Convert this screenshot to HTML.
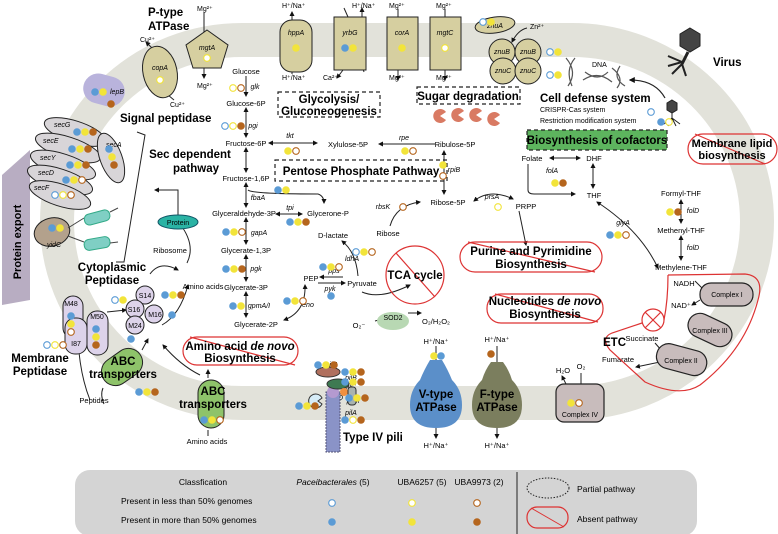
<!DOCTYPE html>
<html><head><meta charset="utf-8"><style>
html,body{margin:0;padding:0;background:#fff}
svg{display:block;font-family:"Liberation Sans",sans-serif}
.s{font-size:7px}
.m{font-size:7.5px}
.i{font-style:italic;font-size:7px}
.b{font-weight:bold;font-size:11.5px}
.bb{font-weight:bold;font-size:11px}
</style></head><body>
<svg id="S" width="778" height="534" viewBox="0 0 778 534" xmlns="http://www.w3.org/2000/svg">
<defs>
<marker id="a" viewBox="0 0 10 10" refX="8" refY="5" markerWidth="5" markerHeight="5" orient="auto-start-reverse"><path d="M0,0L10,5L0,10z" fill="#111" stroke="none"/></marker>
</defs>
<rect x="57" y="40" width="700" height="363" rx="185" ry="185" fill="none" stroke="#e2e2da" stroke-width="34"/>
<polygon points="2,175 30,150 30,300 2,305" fill="#b8adc2"/>
<text class="bb" transform="translate(21,242) rotate(-90)" text-anchor="middle">Protein export</text>

<g stroke="#222" stroke-width="1" fill="none">
<line x1="204" y1="12" x2="204" y2="35"/>
<line x1="204" y1="55" x2="204" y2="78" marker-end="url(#a)"/>
<line x1="154" y1="50" x2="146" y2="42" marker-end="url(#a)"/>
<line x1="168" y1="95" x2="174" y2="100"/>
<line x1="292" y1="12" x2="292" y2="20" marker-start="url(#a)"/>
<line x1="292" y1="72" x2="292" y2="74"/>
<line x1="344" y1="8" x2="348" y2="17"/><line x1="362" y1="17" x2="362" y2="8" marker-end="url(#a)"/>
<line x1="343" y1="70" x2="337" y2="78" marker-end="url(#a)"/><path d="M356,70 Q362,64 364,72"/>
<line x1="398" y1="9" x2="398" y2="17"/><line x1="398" y1="70" x2="398" y2="80" marker-end="url(#a)"/>
<line x1="445" y1="9" x2="445" y2="17"/><line x1="445" y1="70" x2="445" y2="80" marker-end="url(#a)"/>
<path d="M527,28 Q518,30 512,42" marker-end="url(#a)"/>
<path d="M665,98 Q655,80 630,80" marker-end="url(#a)" stroke-width="1.2"/>
<line x1="246" y1="76" x2="246" y2="96" marker-end="url(#a)"/>
<line x1="246" y1="108" x2="246" y2="137" marker-start="url(#a)" marker-end="url(#a)"/>
<line x1="269" y1="143" x2="317" y2="143" marker-start="url(#a)" marker-end="url(#a)"/>
<line x1="435" y1="144" x2="379" y2="144" marker-end="url(#a)"/>
<line x1="246" y1="148" x2="246" y2="172" marker-start="url(#a)" marker-end="url(#a)"/>
<line x1="246" y1="183" x2="246" y2="207" marker-start="url(#a)" marker-end="url(#a)"/>
<path d="M248,190 Q252,194 318,194 Q324,196 324,203" marker-end="url(#a)"/>
<line x1="276" y1="214" x2="302" y2="214" marker-start="url(#a)" marker-end="url(#a)"/>
<line x1="246" y1="218" x2="246" y2="244" marker-start="url(#a)" marker-end="url(#a)"/>
<line x1="246" y1="255" x2="246" y2="281" marker-start="url(#a)" marker-end="url(#a)"/>
<line x1="246" y1="292" x2="246" y2="317" marker-start="url(#a)" marker-end="url(#a)"/>
<path d="M284,320 Q306,312 305,285" marker-start="url(#a)" marker-end="url(#a)"/>
<line x1="343" y1="277" x2="320" y2="277" marker-end="url(#a)"/>
<line x1="318" y1="283" x2="345" y2="283" marker-end="url(#a)"/>
<path d="M358,276 Q356,252 342,241" marker-end="url(#a)"/>
<path d="M362,292 Q380,300 410,285" marker-end="url(#a)"/>
<line x1="444" y1="151" x2="444" y2="194" marker-start="url(#a)" marker-end="url(#a)"/>
<path d="M390,226 Q396,205 420,202" marker-end="url(#a)"/>
<path d="M474,201 Q490,188 513,199" marker-start="url(#a)" marker-end="url(#a)"/>
<line x1="519" y1="211" x2="526" y2="245" marker-end="url(#a)"/>
<line x1="550" y1="158" x2="580" y2="158" marker-start="url(#a)" marker-end="url(#a)"/>
<line x1="593" y1="164" x2="593" y2="188" marker-start="url(#a)" marker-end="url(#a)"/>
<path d="M528,164 L528,190 Q528,194 534,194 L575,194" marker-end="url(#a)"/>
<path d="M597,202 Q640,230 658,268" marker-start="url(#a)" marker-end="url(#a)"/>
<line x1="681" y1="200" x2="681" y2="223" marker-start="url(#a)" marker-end="url(#a)"/>
<line x1="681" y1="236" x2="681" y2="260" marker-start="url(#a)" marker-end="url(#a)"/>
<line x1="375" y1="321" x2="386" y2="318"/>
<line x1="408" y1="313" x2="421" y2="313" marker-end="url(#a)"/>
<polyline points="137,132 145,135 124,262 116,262"/>
<polyline points="178,222 178,190 155,190" marker-end="url(#a)"/>
<path d="M187,263 Q196,245 180,224" marker-end="url(#a)"/>
<path d="M150,274 Q160,260 178,270" marker-end="url(#a)"/>
<path d="M162,325 Q180,315 188,285" marker-end="url(#a)"/>
<line x1="107" y1="312" x2="126" y2="310" marker-end="url(#a)"/>
<line x1="142" y1="350" x2="148" y2="339" marker-end="url(#a)"/>
<path d="M200,375 Q180,365 163,345" marker-end="url(#a)"/>
<line x1="208" y1="378" x2="208" y2="370" marker-end="url(#a)"/>
<path d="M78,340 Q80,375 90,400"/>
<path d="M103,388 Q100,395 104,404"/>
<line x1="208" y1="430" x2="208" y2="436"/>
<line x1="436" y1="346" x2="436" y2="360"/><line x1="436" y1="428" x2="436" y2="438" marker-end="url(#a)"/>
<line x1="497" y1="346" x2="497" y2="362"/><line x1="497" y1="428" x2="497" y2="438" marker-end="url(#a)"/>
<line x1="581" y1="373" x2="581" y2="384"/><line x1="566" y1="384" x2="562" y2="376" marker-end="url(#a)"/>
<line x1="695" y1="281" x2="702" y2="288"/><line x1="700" y1="300" x2="692" y2="305" marker-end="url(#a)"/>
<line x1="655" y1="343" x2="662" y2="351"/><line x1="660" y1="362" x2="636" y2="367" marker-end="url(#a)"/>
</g>

<polygon points="207,30 228,45 221,68 193,68 186,45" fill="#d6cfa0" stroke="#222"/>
<text class="i" x="207" y="50" text-anchor="middle">mgtA</text>
<ellipse cx="160" cy="72" rx="17" ry="26" transform="rotate(-12 160 72)" fill="#d6cfa0" stroke="#222"/>
<text class="i" x="160" y="70" text-anchor="middle">copA</text>
<rect x="280" y="20" width="32" height="52" rx="12" fill="#d6cfa0" stroke="#222"/>
<text class="i" x="296" y="35" text-anchor="middle">hppA</text>
<rect x="334" y="17" width="32" height="53" fill="#d6cfa0" stroke="#222"/>
<text class="i" x="350" y="35" text-anchor="middle">yrbG</text>
<rect x="387" y="17" width="31" height="53" fill="#d6cfa0" stroke="#222"/>
<text class="i" x="402" y="35" text-anchor="middle">corA</text>
<rect x="430" y="17" width="31" height="53" fill="#d6cfa0" stroke="#222"/>
<text class="i" x="445" y="35" text-anchor="middle">mgtC</text>
<g fill="#d6cfa0" stroke="#222">
<ellipse cx="495" cy="25" rx="20" ry="8" transform="rotate(-8 495 25)"/>
<circle cx="502" cy="52" r="13"/><circle cx="528" cy="52" r="13"/>
<circle cx="503" cy="71" r="13"/><circle cx="528" cy="71" r="13"/>
</g>
<g class="i" text-anchor="middle"><text x="495" y="28">znuA</text><text x="502" y="54">znuB</text><text x="528" y="54">znuB</text><text x="503" y="73">znuC</text><text x="528" y="73">znuC</text></g>
<g class="s">
<text x="197" y="11">Mg²⁺</text><text x="197" y="88">Mg²⁺</text>
<text x="140" y="42">Cu²⁺</text><text x="170" y="107">Cu²⁺</text>
<text x="282" y="8">H⁺/Na⁺</text><text x="282" y="80">H⁺/Na⁺</text>
<text x="352" y="8">H⁺/Na⁺</text><text x="323" y="80">Ca²⁺</text>
<text x="389" y="8">Mg²⁺</text><text x="389" y="80">Mg²⁺</text>
<text x="436" y="8">Mg²⁺</text><text x="436" y="80">Mg²⁺</text>
<text x="530" y="29">Zn²⁺</text>
</g>
<text class="b" x="148" y="16">P-type</text><text class="b" x="148" y="30">ATPase</text>

<g stroke="#555" fill="none" stroke-width="1.2">
<path d="M575,58 Q565,70 572,86 M566,58 Q578,72 568,86"/>
<path d="M583,80 Q598,70 612,82 M585,72 Q598,82 608,72"/>
<path d="M612,68 Q625,78 617,88 M620,66 Q612,78 625,86"/>
</g>
<text class="s" x="592" y="67">DNA</text>
<g fill="#444" stroke="#222">
<polygon points="690,28 700,34 700,46 690,52 680,46 680,34"/>
<line x1="688" y1="52" x2="682" y2="64" stroke-width="3"/>
<path d="M682,62 L668,56 M682,62 L668,66 M682,64 L672,74 M682,64 L686,76" stroke-width="2" fill="none"/>
<polygon points="672,100 677,103 677,110 672,113 667,110 667,103"/>
<path d="M672,113 L672,120 M672,118 L664,124 M672,118 L680,124 M672,118 L668,126 M672,118 L676,126" fill="none"/>
</g>
<text class="b" x="713" y="66">Virus</text>
<text class="b" x="540" y="102">Cell defense system</text>
<text class="s" x="540" y="112">CRISPR-Cas system</text>
<text class="s" x="540" y="123">Restriction modification system</text>

<g fill="none" stroke="#222" stroke-dasharray="4,3" stroke-width="1.2">
<rect x="278" y="92" width="102" height="25"/>
<rect x="275" y="160" width="172" height="21"/>
<rect x="417" y="87" width="103" height="17"/>
</g>
<rect x="527" y="130" width="140" height="20" fill="#5db45e" stroke="#222" stroke-dasharray="4,3" stroke-width="1.2"/>
<text class="b" x="329" y="103" text-anchor="middle">Glycolysis/</text>
<text class="b" x="329" y="115" text-anchor="middle">Gluconeogenesis</text>
<text class="b" x="361" y="175" text-anchor="middle">Pentose Phosphate Pathway</text>
<text class="b" x="468" y="100" text-anchor="middle">Sugar degradation</text>
<text class="b" x="597" y="144" text-anchor="middle">Biosynthesis of cofactors</text>
<g fill="#d97a63">
<path d="M440,116 L446,112 A7,7 0 1,0 446,120 Z"/>
<path d="M458,115 L464,111 A7,7 0 1,0 464,119 Z"/>
<path d="M476,115 L482,111 A7,7 0 1,0 482,119 Z"/>
<path d="M494,119 L500,115 A7,7 0 1,0 500,123 Z"/>
</g>

<g class="m" text-anchor="middle">
<text x="246" y="74">Glucose</text><text x="246" y="106">Glucose-6P</text>
<text x="246" y="146">Fructose-6P</text><text x="348" y="147">Xylulose-5P</text>
<text x="455" y="147">Ribulose-5P</text><text x="246" y="181">Fructose-1,6P</text>
<text x="244" y="216">Glyceraldehyde-3P</text><text x="328" y="216">Glycerone-P</text>
<text x="246" y="253">Glycerate-1,3P</text><text x="246" y="290">Glycerate-3P</text>
<text x="256" y="327">Glycerate-2P</text><text x="311" y="281">PEP</text>
<text x="362" y="286">Pyruvate</text><text x="333" y="238">D-lactate</text>
<text x="448" y="205">Ribose-5P</text><text x="388" y="236">Ribose</text>
<text x="526" y="209">PRPP</text><text x="532" y="161">Folate</text>
<text x="594" y="161">DHF</text><text x="594" y="198">THF</text>
<text x="681" y="196">Formyl-THF</text><text x="681" y="233">Methenyl-THF</text>
<text x="681" y="270">Methylene-THF</text>
<text x="436" y="344">H⁺/Na⁺</text><text x="436" y="448">H⁺/Na⁺</text>
<text x="497" y="342">H⁺/Na⁺</text><text x="497" y="448">H⁺/Na⁺</text>
<text x="563" y="373">H₂O</text><text x="581" y="369">O₂</text>
<text x="684" y="286">NADH</text><text x="681" y="308">NAD⁺</text>
<text x="642" y="341">Succinate</text><text x="618" y="362">Fumarate</text>
<text x="359" y="328">O₂⁻</text><text x="436" y="324">O₂/H₂O₂</text>
<text x="170" y="253">Ribosome</text><text x="203" y="289">Amino acids</text>
<text x="94" y="403">Peptides</text><text x="207" y="444">Amino acids</text>
</g>
<g class="i" text-anchor="middle">
<text x="255" y="89">glk</text><text x="253" y="128">pgi</text><text x="290" y="138">tkt</text>
<text x="404" y="140">rpe</text><text x="258" y="200">fbaA</text><text x="290" y="210">tpi</text>
<text x="259" y="235">gapA</text><text x="256" y="271">pgk</text><text x="259" y="308">gpmA/I</text>
<text x="308" y="307">eno</text><text x="334" y="273">pps</text><text x="330" y="291">pyk</text>
<text x="352" y="261">ldhA</text><text x="454" y="172">rpiB</text><text x="383" y="209">rbsK</text>
<text x="492" y="199">prsA</text><text x="552" y="173">folA</text><text x="623" y="225">glyA</text>
<text x="693" y="213">folD</text><text x="693" y="250">folD</text>
<text x="331" y="367">pilT</text><text x="351" y="380">pilB</text><text x="350" y="389">pilC</text>
<text x="337" y="400">pilD</text><text x="353" y="403">pilM</text><text x="351" y="415">pilA</text>
<text x="581" y="398">Cox</text>
</g>

<rect x="83" y="75" width="42" height="30" rx="15" transform="rotate(15 104 90)" fill="#b9b3dc"/>
<text class="i" x="110" y="94">lepB</text>
<g fill="#d8d5d8" stroke="#222">
<ellipse cx="75" cy="132" rx="32" ry="11" transform="rotate(18 75 132)"/>
<ellipse cx="68" cy="148" rx="34" ry="11" transform="rotate(18 68 148)"/>
<ellipse cx="63" cy="165" rx="34" ry="11" transform="rotate(18 63 165)"/>
<ellipse cx="60" cy="180" rx="34" ry="11" transform="rotate(18 60 180)"/>
<ellipse cx="60" cy="195" rx="32" ry="11" transform="rotate(18 60 195)"/>
<ellipse cx="111" cy="158" rx="11" ry="26" transform="rotate(-20 111 158)"/>
</g>
<g class="i"><text x="54" y="127">secG</text><text x="43" y="143">secE</text><text x="40" y="160">secY</text><text x="38" y="175">secD</text><text x="34" y="190">secF</text><text x="106" y="147">secA</text></g>
<ellipse cx="52" cy="232" rx="18" ry="14" transform="rotate(-15 52 232)" fill="#b3a18c" stroke="#222"/>
<text class="i" x="47" y="247">yidC</text>
<path d="M68,228 L84,218 M68,236 L84,242" stroke="#444"/>
<rect x="84" y="212" width="26" height="11" rx="5" transform="rotate(-15 97 217)" fill="#7fcfc4" stroke="#3a8"/>
<rect x="84" y="238" width="26" height="11" rx="5" transform="rotate(-10 97 243)" fill="#7fcfc4" stroke="#3a8"/>
<line x1="110" y1="212" x2="118" y2="208" stroke="#444"/><line x1="110" y1="243" x2="118" y2="242" stroke="#444"/>
<ellipse cx="178" cy="222" rx="20" ry="7" fill="#2ab3a4" stroke="#156"/>
<text class="s" x="178" y="225" text-anchor="middle">Protein</text>
<text class="b" x="120" y="122">Signal peptidase</text>
<text class="b" x="190" y="158" text-anchor="middle">Sec dependent</text>
<text class="b" x="196" y="172" text-anchor="middle">pathway</text>
<text class="b" x="112" y="271" text-anchor="middle">Cytoplasmic</text>
<text class="b" x="112" y="284" text-anchor="middle">Peptidase</text>
<text class="b" x="40" y="362" text-anchor="middle">Membrane</text>
<text class="b" x="40" y="375" text-anchor="middle">Peptidase</text>
<g fill="#ddd3ea" stroke="#222">
<rect x="63" y="296" width="20" height="42" rx="10"/><rect x="65" y="318" width="22" height="36" rx="10"/>
<rect x="87" y="311" width="21" height="44" rx="10"/>
<circle cx="145" cy="295" r="9"/><circle cx="135" cy="309" r="9"/><circle cx="154" cy="314" r="9"/><circle cx="135" cy="325" r="9"/>
</g>
<g class="s" text-anchor="middle"><text x="71" y="306">M48</text><text x="76" y="346">I87</text><text x="97" y="319">M50</text>
<text x="145" y="298">S14</text><text x="134" y="312">S16</text><text x="155" y="317">M16</text><text x="135" y="328">M24</text></g>
<rect x="100" y="353" width="44" height="28" rx="14" transform="rotate(-35 122 367)" fill="#8ec36a" stroke="#222"/>
<text class="b" x="123" y="365" text-anchor="middle">ABC</text><text class="b" x="123" y="378" text-anchor="middle">transporters</text>
<rect x="198" y="380" width="26" height="48" rx="13" fill="#8ec36a" stroke="#222"/>
<text class="b" x="213" y="395" text-anchor="middle">ABC</text><text class="b" x="213" y="408" text-anchor="middle">transporters</text>

<g fill="none" stroke="#d33" stroke-width="1.2">
<rect x="183" y="337" width="115" height="28" rx="14"/><line x1="190" y1="337" x2="295" y2="365"/>
<circle cx="415" cy="275" r="29"/><line x1="396" y1="253" x2="435" y2="297"/>
<rect x="460" y="242" width="142" height="30" rx="15"/><line x1="468" y1="242" x2="595" y2="272"/>
<rect x="487" y="294" width="116" height="29" rx="14"/><line x1="495" y1="294" x2="598" y2="322"/>
<rect x="688" y="134" width="89" height="30" rx="15"/><line x1="695" y1="134" x2="765" y2="164"/>
<path d="M668,275 L745,274 Q765,276 758,300 Q745,350 700,385 Q680,398 645,382 L610,350 Q600,338 612,333 L642,323"/>
<path d="M664,320 Q668,300 668,275"/>
<circle cx="653" cy="320" r="11"/><line x1="645" y1="312" x2="661" y2="328"/><line x1="661" y1="312" x2="645" y2="328"/>
</g>
<text class="b" x="240" y="350" text-anchor="middle">Amino acid <tspan font-style="italic">de novo</tspan></text>
<text class="b" x="240" y="362" text-anchor="middle">Biosynthesis</text>
<text class="b" x="415" y="279" text-anchor="middle">TCA cycle</text>
<text class="b" x="531" y="255" text-anchor="middle">Purine and Pyrimidine</text>
<text class="b" x="531" y="268" text-anchor="middle">Biosynthesis</text>
<text class="b" x="545" y="305" text-anchor="middle">Nucleotides <tspan font-style="italic">de novo</tspan></text>
<text class="b" x="545" y="318" text-anchor="middle">Biosynthesis</text>
<text class="bb" x="732" y="147" text-anchor="middle" font-size="10.5">Membrane lipid</text>
<text class="bb" x="732" y="159" text-anchor="middle" font-size="10.5">biosynthesis</text>
<text class="b" x="603" y="346">ETC</text>
<g fill="#c8bcbc" stroke="#222" stroke-width="1.2">
<rect x="700" y="283" width="53" height="23" rx="11"/>
<rect x="687" y="318" width="46" height="24" rx="12" transform="rotate(25 710 330)"/>
<rect x="656" y="347" width="51" height="25" rx="12" transform="rotate(15 681 360)"/>
<rect x="556" y="384" width="48" height="38" rx="8"/>
</g>
<g class="s" text-anchor="middle"><text x="727" y="297">Complex I</text><text x="710" y="333">Complex III</text><text x="681" y="363">Complex II</text><text x="580" y="417">Complex IV</text></g>
<ellipse cx="393" cy="321" rx="16" ry="9" fill="#b8d8b3"/>
<text class="s" x="393" y="320" text-anchor="middle">SOD2</text>
<path d="M430,360 L442,360 Q448,370 452,380 Q462,390 462,405 Q462,428 436,428 Q410,428 410,405 Q410,390 420,380 Q424,370 430,360Z" fill="#5b8fc9"/>
<path d="M491,362 L503,362 Q509,370 512,380 Q522,390 522,405 Q522,428 497,428 Q472,428 472,405 Q472,390 482,380 Q485,370 491,362Z" fill="#7b7e5e"/>
<text class="b" x="436" y="398" text-anchor="middle">V-type</text><text class="b" x="436" y="411" text-anchor="middle">ATPase</text>
<text class="b" x="497" y="398" text-anchor="middle">F-type</text><text class="b" x="497" y="411" text-anchor="middle">ATPase</text>
<rect x="326" y="392" width="14" height="60" fill="#8a93c7" stroke="#557" stroke-dasharray="2,1"/>
<ellipse cx="333" cy="392" rx="6" ry="6" fill="#b49ad0"/>
<ellipse cx="328" cy="372" rx="12" ry="5" fill="#b0705e" stroke="#333"/>
<ellipse cx="338" cy="384" rx="11" ry="5" fill="#3e7a52" stroke="#333"/>
<circle cx="344" cy="392" r="4" fill="#f09040"/>
<rect x="348" y="387" width="8" height="18" rx="3" fill="#a9b3ae" stroke="#333"/>
<path d="M322,398 A7,7 0 1,0 322,404 L318,401Z" fill="#d6ecf7" stroke="#333"/>
<text class="b" x="343" y="441">Type IV pili</text>

<rect x="75" y="470" width="622" height="66" rx="15" fill="#d4d4d4"/>
<g font-size="8.5"><text x="203" y="485" text-anchor="middle">Classfication</text>
<text x="121" y="504">Present in less than 50% genomes</text>
<text x="121" y="523">Present in more than 50% genomes</text>
<text x="333" y="485" text-anchor="middle"><tspan font-style="italic">Paceibacterales</tspan> (5)</text>
<text x="422" y="485" text-anchor="middle">UBA6257 (5)</text><text x="479" y="485" text-anchor="middle">UBA9973 (2)</text>
<text x="577" y="492">Partial pathway</text><text x="577" y="522">Absent pathway</text></g>
<line x1="517" y1="472" x2="517" y2="534" stroke="#222"/>
<ellipse cx="548" cy="488" rx="21" ry="10" fill="none" stroke="#222" stroke-dasharray="1.5,1.5"/>
<rect x="527" y="507" width="41" height="21" rx="10" fill="none" stroke="#d33" stroke-width="1.2"/>
<line x1="531" y1="508" x2="564" y2="527" stroke="#d33"/>
<g id="D"></g>
</svg>
<script>
var C={b:"#5b9bd5",y:"#f2e43a",r:"#b5651d"};
var L=[
[332,503,"b"],[412,503,"y"],[477,503,"r"],[332,522,"B"],[412,522,"Y"],[477,522,"R"],
[160,80,"y"],[207,58,"y"],[296,48,"Y"],[345,48,"BY"],[402,48,"Y"],[445,48,"y"],
[483,22,"bY"],[550,52,"bY"],[550,75,"bY"],[651,112,"b"],[661,122,"By"],
[233,88,"yr"],[225,126,"byR"],[288,151,"Yr"],[405,151,"Yr"],[443,165,"Y"],[443,176,"r"],
[278,190,"BY"],[290,222,"BYR"],[226,232,"BYr"],[226,269,"BYR"],[233,306,"BY"],[287,301,"BYr"],
[323,267,"BYr"],[331,296,"B"],[356,252,"bYr"],[403,207,"r"],[498,207,"y"],[555,183,"YR"],
[610,235,"BYr"],[670,212,"YR"],[434,356,"Y"],[441,356,"B"],[491,354,"R"],[571,403,"Yr"],
[318,365,"BYR"],[345,372,"BYR"],[345,382,"BYR"],[299,406,"BYR"],[349,398,"BYR"],[345,420,"ByR"],
[95,92,"B"],[103,92,"Y"],[111,104,"R"],[77,132,"BYR"],[72,149,"BYR"],[70,165,"BYR"],[66,180,"BYr"],[55,195,"byr"],
[109,149,"B"],[112,157,"Y"],[114,165,"R"],[52,228,"BY"],[165,295,"BYR"],[172,315,"B"],[131,339,"B"],
[115,300,"bY"],[71,316,"B"],[71,324,"Y"],[71,332,"r"],[96,329,"B"],[96,337,"Y"],[96,345,"R"],
[47,345,"byr"],[139,392,"BYR"],[204,420,"BYr"]
];
var g=document.getElementById("D"),ns="http://www.w3.org/2000/svg";
L.forEach(function(e){for(var k=0;k<e[2].length;k++){var c=e[2][k],lc=c.toLowerCase(),o=document.createElementNS(ns,"circle");
o.setAttribute("cx",e[0]+k*8);o.setAttribute("cy",e[1]);o.setAttribute("r",c==lc?3.3:3.8);
if(c==lc){o.setAttribute("fill","#fff");o.setAttribute("stroke",C[lc]);o.setAttribute("stroke-width","1.1");}else o.setAttribute("fill",C[lc]);
g.appendChild(o);}});
</script>
</body></html>
